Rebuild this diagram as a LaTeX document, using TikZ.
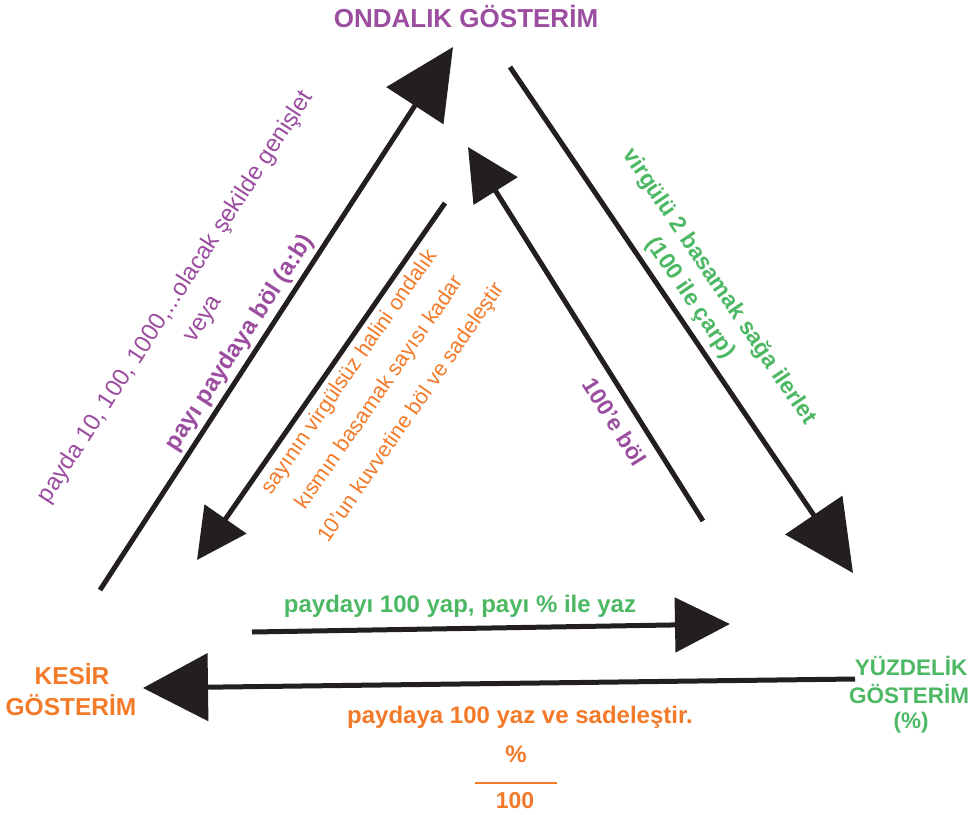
\documentclass[tikz,border=0pt]{standalone}
\usepackage{fontspec}
\setmainfont{Liberation Sans}
\usetikzlibrary{arrows.meta}

\definecolor{ondpurple}{RGB}{155,77,159}
\definecolor{kesorange}{RGB}{243,122,41}
\definecolor{yuzgreen}{RGB}{77,184,100}
\definecolor{ink}{RGB}{35,31,32}

\newcommand{\fs}[1]{\fontsize{#1}{#1}\selectfont}

\tikzset{
  txt/.style={inner sep=0pt, outer sep=0pt},
  flow/.style={draw=ink, line width=5pt},
}

\begin{document}
\begin{tikzpicture}[x=1pt, y=-1pt]
\useasboundingbox (0,0) rectangle (979,814);

% --- the three representations ---
\node[txt, anchor=base, text=ondpurple, font=\fs{26}\bfseries] (ondalik) at (466,27) {ONDALIK GÖSTERİM};

\node[txt, anchor=base, text=kesorange, font=\fs{24.5}\bfseries] (kesir) at (72,684) {KESİR};
\node[txt, anchor=base, text=kesorange, font=\fs{24.5}\bfseries] (kesir2) at (71,715) {GÖSTERİM};

\node[txt, anchor=base, text=yuzgreen, font=\fs{22.5}\bfseries] (yuzde) at (911,675) {YÜZDELİK};
\node[txt, anchor=base, text=yuzgreen, font=\fs{22.5}\bfseries] (yuzde2) at (909,703) {GÖSTERİM};
\node[txt, anchor=base, text=yuzgreen, font=\fs{22.5}\bfseries] (yuzde3) at (911,728) {(\%)};

% --- arrow end points ---
\coordinate (a1s) at (100,590);  \coordinate (a1e) at (453,47);
\coordinate (a2s) at (445,203);  \coordinate (a2e) at (197,560);
\coordinate (a3s) at (703,521);  \coordinate (a3e) at (468,147);
\coordinate (a4s) at (510,67);   \coordinate (a4e) at (853,573);
\coordinate (a5s) at (252,632);  \coordinate (a5e) at (730,624);
\coordinate (a6s) at (855,679);  \coordinate (a6e) at (143,688);

% --- arrows ---
\draw[flow, -{Triangle[length=70pt,width=67pt]}] (a1s) -- (a1e);
\draw[flow, -{Triangle[length=50pt,width=50pt]}] (a2s) -- (a2e);
\draw[flow, -{Triangle[length=52pt,width=51pt]}] (a3s) -- (a3e);
\draw[flow, -{Triangle[length=70pt,width=68pt]}] (a4s) -- (a4e);
\draw[flow, -{Triangle[length=55pt,width=54pt]}] (a5s) -- (a5e);
\draw[flow, -{Triangle[length=65pt,width=67pt]}] (a6s) -- (a6e);

% --- kesir -> ondalik (outer left) ---
\node[txt, rotate=57, text=ondpurple, font=\fs{24}] (l1a) at (176,297) {payda 10, 100, 1000,...olacak şekilde genişlet};
\node[txt, rotate=57, text=ondpurple, font=\fs{24}] (l1b) at (205,320) {veya};
\node[txt, rotate=57, text=ondpurple, font=\fs{24}\bfseries] (l1c) at (240,343) {payı paydaya böl (a:b)};

% --- ondalik -> kesir (inner left) ---
\node[txt, rotate=55.3, text=kesorange, font=\fs{21.5}] (l2a) at (350,372) {sayının virgülsüz halini ondalık};
\node[txt, rotate=55.3, text=kesorange, font=\fs{21.5}] (l2b) at (380,393) {kısmın basamak sayısı kadar};
\node[txt, rotate=55.3, text=kesorange, font=\fs{21.5}] (l2c) at (412,413) {10’un kuvvetine böl ve sadeleştir};

% --- yuzde -> ondalik (inner right) ---
\node[txt, rotate=-57.7, text=ondpurple, font=\fs{23}\bfseries] (l3) at (615,422) {100’e böl};

% --- ondalik -> yuzde (outer right) ---
\node[txt, rotate=-55.9, text=yuzgreen, font=\fs{23}\bfseries] (l4a) at (719,287) {virgülü 2 basamak sağa ilerlet};
\node[txt, rotate=-55.9, text=yuzgreen, font=\fs{23}\bfseries] (l4b) at (690,298) {(100 ile çarp)};

% --- kesir <-> yuzde (bottom) ---
\node[txt, anchor=base, text=yuzgreen, font=\fs{24}\bfseries] (l5) at (460,612) {paydayı 100 yap, payı \% ile yaz};
\node[txt, anchor=base, text=kesorange, font=\fs{24}\bfseries] (l6) at (520,723) {paydaya 100 yaz ve sadeleştir.};

\node[txt, anchor=base, text=kesorange, font=\fs{24}\bfseries] (pct) at (516,762) {\%};
\node[txt, anchor=base, text=kesorange, font=\fs{23}\bfseries] (hund) at (515,808) {100};
\coordinate (barl) at (475,783);
\coordinate (barr) at (557,783);
\draw[kesorange, line width=2.5pt] (barl) -- (barr);
\end{tikzpicture}
\end{document}
